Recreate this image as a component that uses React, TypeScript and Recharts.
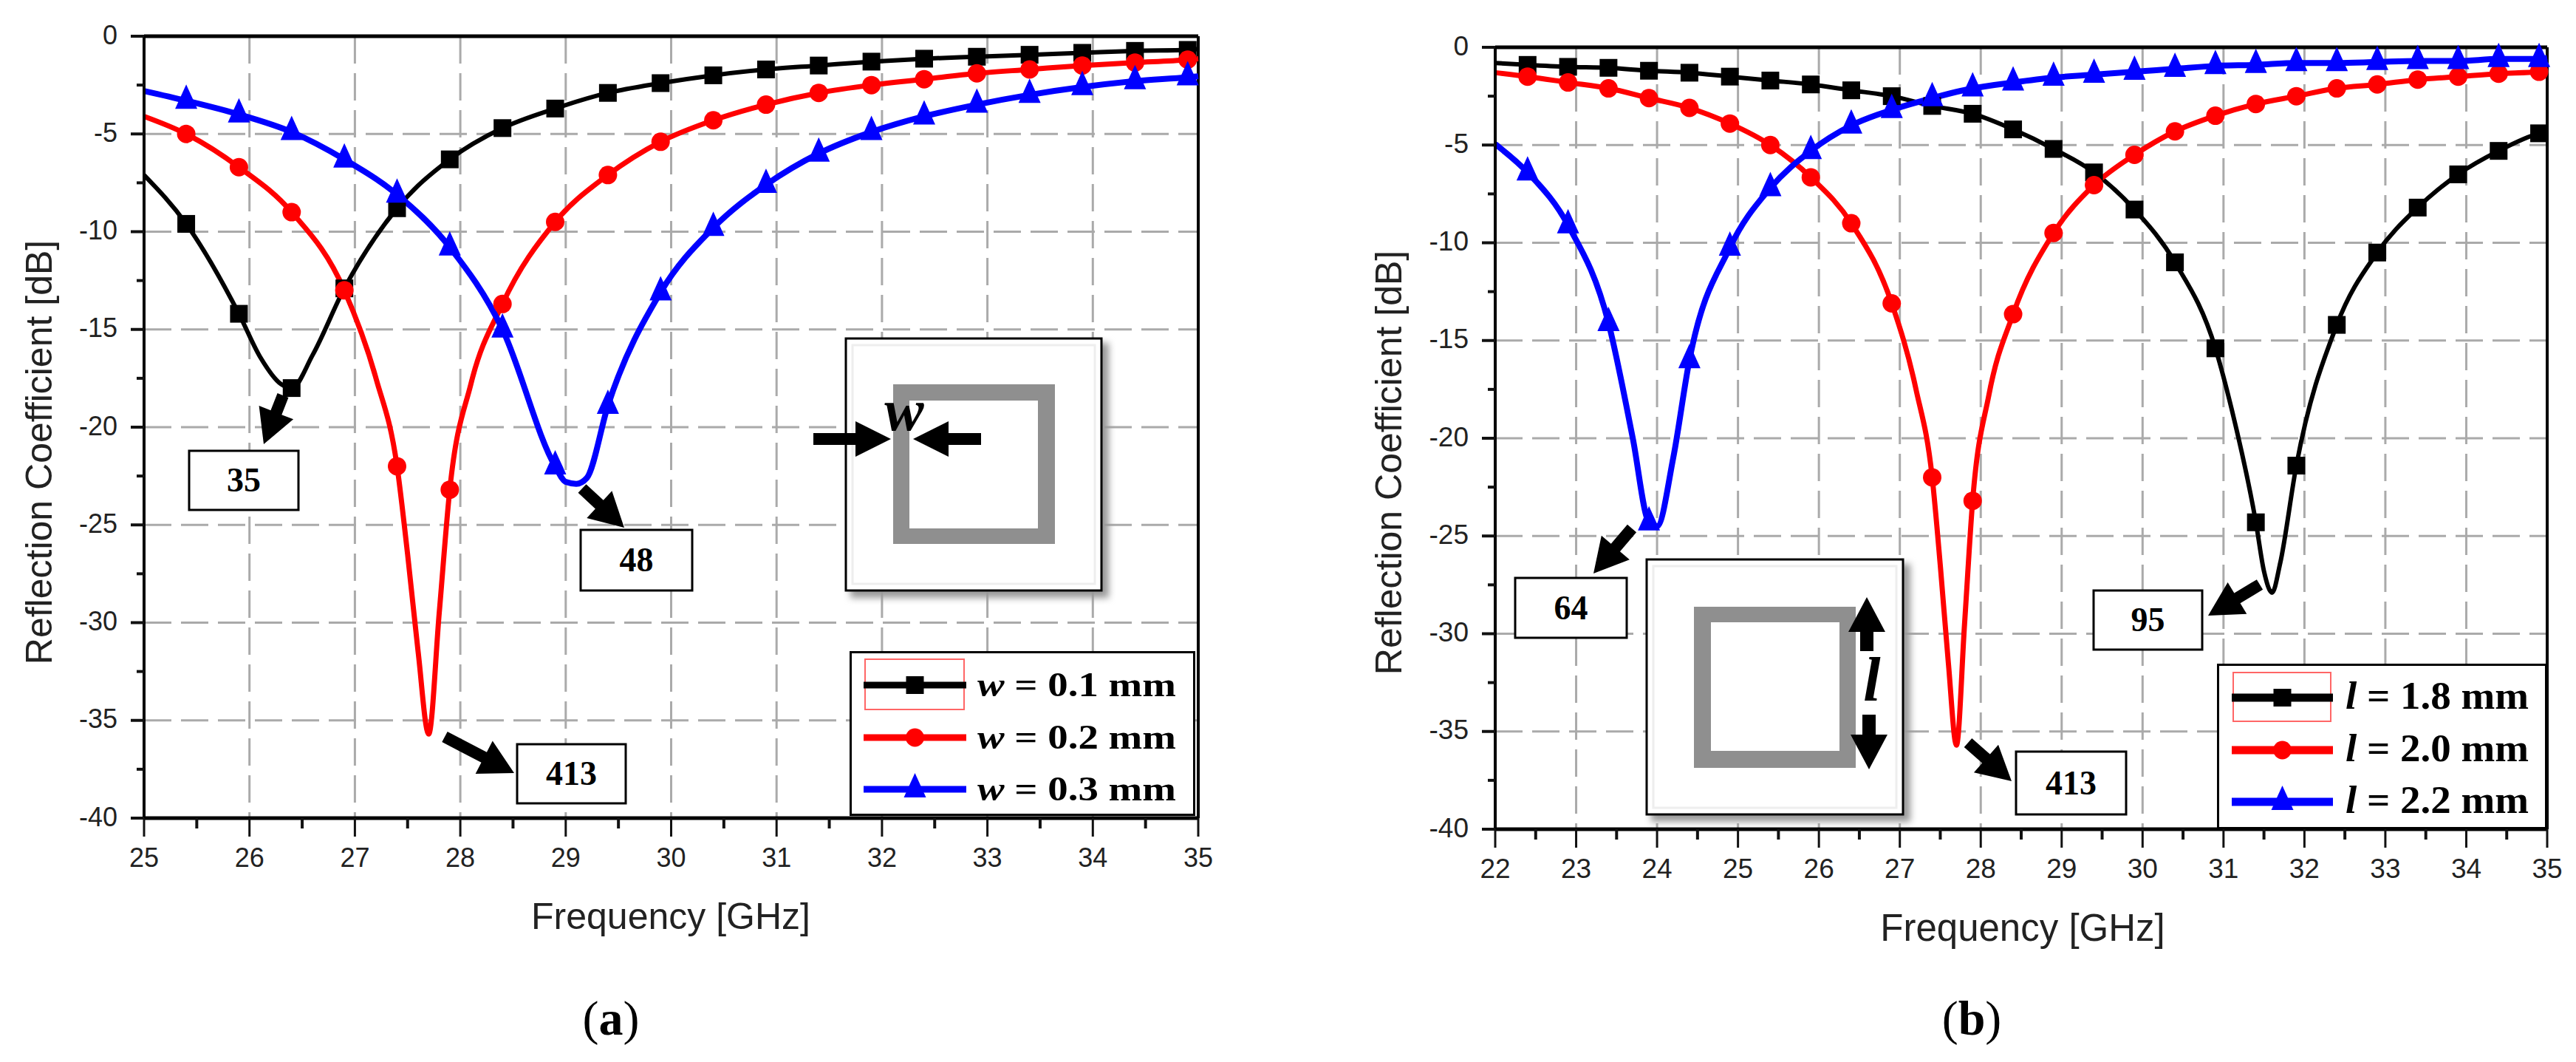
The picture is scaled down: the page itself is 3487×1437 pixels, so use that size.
import { LineChart, Line, XAxis, YAxis, CartesianGrid, Legend, ReferenceLine } from "recharts";

// panel (a): width sweep
const aMarkerX = [25.4, 25.9, 26.4, 26.9, 27.4, 27.9, 28.4, 28.9, 29.4, 29.9, 30.4, 30.9, 31.4, 31.9, 32.4, 32.9, 33.4, 33.9, 34.4, 34.9];
const aBlackX = [25, 25.4, 25.9, 26.1, 26.3, 26.4, 26.6, 26.9, 27.4, 27.9, 28.4, 28.9, 29.4, 29.9, 30.4, 30.9, 31.4, 31.9, 32.4, 32.9, 33.4, 33.9, 34.4, 34.9, 35];
const aBlackY = [-7.1, -9.6, -14.2, -16.4, -17.8, -18, -16.3, -12.9, -8.8, -6.3, -4.7, -3.7, -2.9, -2.4, -2, -1.7, -1.5, -1.3, -1.15, -1.05, -0.95, -0.85, -0.75, -0.7, -0.65];
const aRedX = [25, 25.4, 25.9, 26.4, 26.9, 27.2, 27.4, 27.5, 27.6, 27.7, 27.8, 27.9, 28.1, 28.4, 28.9, 29.4, 29.9, 30.4, 30.9, 31.4, 31.9, 32.4, 32.9, 33.4, 33.9, 34.4, 34.9, 35];
const aRedY = [-4.1, -5, -6.7, -9, -13, -17.5, -22, -26.5, -31.5, -35.7, -29.5, -23.2, -17.8, -13.7, -9.5, -7.1, -5.4, -4.3, -3.5, -2.9, -2.5, -2.2, -1.9, -1.7, -1.5, -1.35, -1.2, -1.15];
const aBlueX = [25, 25.4, 25.9, 26.4, 26.9, 27.4, 27.9, 28.4, 28.9, 29, 29.1, 29.2, 29.4, 29.9, 30.4, 30.9, 31.4, 31.9, 32.4, 32.9, 33.4, 33.9, 34.4, 34.9, 35];
const aBlueY = [-2.8, -3.3, -4, -4.9, -6.3, -8.1, -10.8, -15, -22, -22.8, -22.9, -22.6, -18.9, -13.1, -9.8, -7.6, -6, -4.9, -4.1, -3.5, -3, -2.6, -2.3, -2.1, -2.05];
const aNames = ["w = 0.1 mm", "w = 0.2 mm", "w = 0.3 mm"];

// panel (b): length sweep
const bMarkerX = [22.4, 22.9, 23.4, 23.9, 24.4, 24.9, 25.4, 25.9, 26.4, 26.9, 27.4, 27.9, 28.4, 28.9, 29.4, 29.9, 30.4, 30.9, 31.4, 31.9, 32.4, 32.9, 33.4, 33.9, 34.4, 34.9];
const bBlackX = [22, 22.4, 22.9, 23.4, 23.9, 24.4, 24.9, 25.4, 25.9, 26.4, 26.9, 27.4, 27.9, 28.4, 28.9, 29.4, 29.9, 30.4, 30.9, 31.1, 31.4, 31.5, 31.6, 31.7, 31.9, 32.4, 32.9, 33.4, 33.9, 34.4, 34.9, 35];
const bBlackY = [-0.8, -0.9, -1, -1.05, -1.2, -1.3, -1.5, -1.7, -1.9, -2.2, -2.5, -3, -3.4, -4.2, -5.2, -6.4, -8.3, -11, -15.4, -18.5, -24.3, -26.8, -27.9, -26.4, -21.4, -14.2, -10.5, -8.2, -6.5, -5.3, -4.4, -4.3];
const bRedX = [22, 22.4, 22.9, 23.4, 23.9, 24.4, 24.9, 25.4, 25.9, 26.4, 26.9, 27.2, 27.4, 27.5, 27.6, 27.7, 27.8, 27.9, 28.1, 28.4, 28.9, 29.4, 29.9, 30.4, 30.9, 31.4, 31.9, 32.4, 32.9, 33.4, 33.9, 34.4, 34.9, 35];
const bRedY = [-1.3, -1.5, -1.8, -2.1, -2.6, -3.1, -3.9, -5, -6.65, -9, -13.1, -17.5, -22, -26.5, -31.5, -35.7, -29.5, -23.2, -17.8, -13.65, -9.5, -7.05, -5.5, -4.3, -3.5, -2.9, -2.5, -2.1, -1.9, -1.65, -1.5, -1.35, -1.25, -1.2];
const bBlueX = [22, 22.4, 22.9, 23.4, 23.7, 23.9, 24, 24.2, 24.4, 24.9, 25.4, 25.9, 26.4, 26.9, 27.4, 27.9, 28.4, 28.9, 29.4, 29.9, 30.4, 30.9, 31.4, 31.9, 32.4, 32.9, 33.4, 33.9, 34.4, 34.9, 35];
const bBlueY = [-4.95, -6.4, -9.1, -14.1, -20, -24.3, -24.5, -21, -16, -10.25, -7.2, -5.3, -4, -3.2, -2.6, -2.1, -1.8, -1.55, -1.4, -1.25, -1.1, -0.95, -0.9, -0.8, -0.8, -0.75, -0.7, -0.7, -0.6, -0.6, -0.55];
const bNames = ["l = 1.8 mm", "l = 2.0 mm", "l = 2.2 mm"];

const aXTicks = [25, 25.5, 26, 26.5, 27, 27.5, 28, 28.5, 29, 29.5, 30, 30.5, 31, 31.5, 32, 32.5, 33, 33.5, 34, 34.5, 35];
const bXTicks = [22, 22.5, 23, 23.5, 24, 24.5, 25, 25.5, 26, 26.5, 27, 27.5, 28, 28.5, 29, 29.5, 30, 30.5, 31, 31.5, 32, 32.5, 33, 33.5, 34, 34.5, 35];
const yTicks = [0, -2.5, -5, -7.5, -10, -12.5, -15, -17.5, -20, -22.5, -25, -27.5, -30, -32.5, -35, -37.5, -40];
const yGrid = [-5, -10, -15, -20, -25, -30, -35];

const SERIES_COLORS = ["#000000", "#ff0000", "#0000ff"];
const SANS = "'Liberation Sans', Arial, sans-serif";
const SERIF = "'Liberation Serif', 'Times New Roman', serif";

const toRows = (xs: number[], ys: number[]) => xs.map((x, i) => ({ x, y: ys[i] }));

const Marker = ({ kind, cx, cy }: { kind: number; cx: number; cy: number }) => {
  if (kind === 0) return <rect x={cx - 12} y={cy - 12} width={24} height={24} fill="#000" />;
  if (kind === 1) return <circle cx={cx} cy={cy} r={12.5} fill="#f00" />;
  return <polygon points={`${cx},${cy - 22} ${cx + 15},${cy + 11} ${cx - 15},${cy + 11}`} fill="#00f" />;
};

const markerDot = (kind: number, markerX: number[]) => (props: any) => {
  const key = `${kind}-${props.index}`;
  if (!markerX.includes(props.payload.x)) return <g key={key} />;
  return <Marker key={key} kind={kind} cx={props.cx} cy={props.cy} />;
};

const XTick = ({ x, payload, fontSize, axisY }: any) => {
  const major = Number.isInteger(payload.value);
  return (
    <g>
      <line x1={x} x2={x} y1={axisY} y2={axisY + (major ? 25 : 14)} stroke="#111" strokeWidth={major ? 3 : 4} />
      {major && (
        <text x={x} y={axisY + 53} textAnchor="middle" dominantBaseline="central" fontFamily={SANS} fontSize={fontSize} fill="#222">
          {payload.value}
        </text>
      )}
    </g>
  );
};

const YTick = ({ y, payload, fontSize, axisX }: any) => {
  const major = payload.value % 5 === 0;
  return (
    <g>
      <line x1={axisX} x2={axisX - (major ? 18 : 10)} y1={y} y2={y} stroke="#111" strokeWidth={4} />
      {major && (
        <text x={axisX - 36} y={y - 2} textAnchor="end" dominantBaseline="central" fontFamily={SANS} fontSize={fontSize} fill="#222">
          {payload.value}
        </text>
      )}
    </g>
  );
};

// legend box, drawn in its own svg
const LegendBox = ({ payload, w, h, swatch, rows, red, textX, textLen, fontSize, strokeW }: any) => (
  <svg width={w} height={h} style={{ display: "block" }}>
    <rect x={1.5} y={1.5} width={w - 3} height={h - 3} fill="#fff" stroke="#000" strokeWidth={3} />
    <rect x={red[0]} y={red[1]} width={red[2]} height={red[3]} fill="none" stroke="#f66" strokeWidth={2} />
    {(payload || []).map((p: any, i: number) => (
      <g key={p.value}>
        <line x1={swatch[0]} x2={swatch[1]} y1={rows[i]} y2={rows[i]} stroke={SERIES_COLORS[i]} strokeWidth={strokeW} />
        <Marker kind={i} cx={(swatch[0] + swatch[1]) / 2} cy={rows[i]} />
        <text x={textX} y={rows[i] + 15} fontFamily={SERIF} fontWeight={700} fontSize={fontSize} textLength={textLen} lengthAdjust="spacingAndGlyphs">
          <tspan fontStyle="italic">{String(p.value)[0]}</tspan>
          {String(p.value).slice(1)}
        </text>
      </g>
    ))}
  </svg>
);

const Panel = ({ left, width, margin, xDomain, xTicks, markerX, series, names, tickFont, legend }: any) => (
  <div style={{ position: "absolute", left, top: 0 }}>
    <LineChart width={width} height={1437} margin={margin}>
      <CartesianGrid
        stroke="#aaaaaa"
        strokeWidth={3}
        strokeDasharray="37 13"
        horizontalValues={yGrid}
        verticalValues={xTicks.filter((t: number) => Number.isInteger(t) && t !== xDomain[0] && t !== xDomain[1])}
      />
      <XAxis
        type="number"
        dataKey="x"
        domain={xDomain}
        ticks={xTicks}
        interval={0}
        height={1}
        tickSize={0}
        tickLine={false}
        axisLine={{ stroke: "#000", strokeWidth: 5 }}
        tick={<XTick fontSize={tickFont} axisY={1437 - margin.bottom - 1} />}
        allowDuplicatedCategory={false}
      />
      <YAxis
        type="number"
        domain={[-40, 0]}
        ticks={yTicks}
        interval={0}
        width={1}
        tickSize={0}
        tickLine={false}
        axisLine={{ stroke: "#000", strokeWidth: 4 }}
        tick={<YTick fontSize={tickFont} axisX={margin.left + 1} />}
      />
      <ReferenceLine y={0} stroke="#000" strokeWidth={5} />
      <ReferenceLine x={xDomain[1]} stroke="#000" strokeWidth={4} />
      {series.map((rows: any[], i: number) => (
        <Line
          key={names[i]}
          data={rows}
          dataKey="y"
          name={names[i]}
          type="monotone"
          stroke={SERIES_COLORS[i]}
          strokeWidth={i === 0 ? 6 : i === 1 ? 7 : 8}
          dot={markerDot(i, markerX)}
          activeDot={false}
          isAnimationActive={false}
        />
      ))}
      <Legend
        layout="vertical"
        align="center"
        verticalAlign="middle"
        wrapperStyle={{ left: legend.left, top: legend.top, width: legend.w, height: legend.h, margin: 0, padding: 0 }}
        content={(p: any) => <LegendBox payload={p.payload} {...legend} />}
      />
    </LineChart>
  </div>
);

// block arrow from (x1,y1) to its tip (x2,y2)
const Arrow = ({ x1, y1, x2, y2, shaft = 16, headW = 50, headL = 46 }: any) => {
  const len = Math.hypot(x2 - x1, y2 - y1);
  const ux = (x2 - x1) / len;
  const uy = (y2 - y1) / len;
  const nx = -uy;
  const ny = ux;
  const bx = x2 - ux * headL;
  const by = y2 - uy * headL;
  const pts = [
    [x1 + (nx * shaft) / 2, y1 + (ny * shaft) / 2],
    [bx + (nx * shaft) / 2, by + (ny * shaft) / 2],
    [bx + (nx * headW) / 2, by + (ny * headW) / 2],
    [x2, y2],
    [bx - (nx * headW) / 2, by - (ny * headW) / 2],
    [bx - (nx * shaft) / 2, by - (ny * shaft) / 2],
    [x1 - (nx * shaft) / 2, y1 - (ny * shaft) / 2],
  ];
  return <polygon points={pts.map((p) => p.join(",")).join(" ")} fill="#000" />;
};

const Callout = ({ x, y, w, h, label }: any) => (
  <g>
    <rect x={x} y={y} width={w} height={h} fill="#fff" stroke="#000" strokeWidth={3} />
    <text x={x + w / 2} y={y + h / 2 + 15} textAnchor="middle" fontFamily={SERIF} fontWeight={700} fontSize={46}>
      {label}
    </text>
  </g>
);

const Inset = ({ x, y, w, h, ring, hole }: any) => (
  <g>
    <rect x={x + 6} y={y + 6} width={w + 4} height={h + 4} fill="#999" style={{ filter: "blur(5px)" }} />
    <rect x={x} y={y} width={w} height={h} fill="#fff" stroke="#000" strokeWidth={3} />
    <rect x={x + 9} y={y + 9} width={w - 18} height={h - 18} fill="#fff" stroke="#eeeeee" strokeWidth={3} />
    <rect x={ring[0]} y={ring[1]} width={ring[2]} height={ring[3]} fill="#8f8f8f" />
    <rect x={hole[0]} y={hole[1]} width={hole[2]} height={hole[3]} fill="#fff" />
  </g>
);

const Overlay = () => (
  <svg width={3487} height={1437} style={{ position: "absolute", left: 0, top: 0, pointerEvents: "none" }}>
    {/* axis titles */}
    <text x={908} y={1240} textAnchor="middle" dominantBaseline="central" fontFamily={SANS} fontSize={50} fill="#222">Frequency [GHz]</text>
    <text transform="translate(53 612) rotate(-90)" textAnchor="middle" dominantBaseline="central" fontFamily={SANS} fontSize={50} fill="#222">Reflection Coefficient [dB]</text>
    <text x={2738} y={1255} textAnchor="middle" dominantBaseline="central" fontFamily={SANS} fontSize={51} fill="#222">Frequency [GHz]</text>
    <text transform="translate(1880 626) rotate(-90)" textAnchor="middle" dominantBaseline="central" fontFamily={SANS} fontSize={50} fill="#222">Reflection Coefficient [dB]</text>

    {/* panel letters */}
    <text x={827} y={1400} textAnchor="middle" fontFamily={SERIF} fontSize={66}>(<tspan fontWeight={700}>a</tspan>)</text>
    <text x={2669} y={1400} textAnchor="middle" fontFamily={SERIF} fontSize={66}>(<tspan fontWeight={700}>b</tspan>)</text>

    {/* panel (a) call-outs */}
    <Arrow x1={383} y1={535} x2={357} y2={601} />
    <Callout x={256} y={610} w={148} h={80} label="35" />
    <Arrow x1={788} y1={661} x2={845} y2={714} />
    <Callout x={786} y={717} w={151} h={82} label="48" />
    <Arrow x1={602} y1={997} x2={696} y2={1046} />
    <Callout x={700} y={1007} w={147} h={80} label="413" />

    <Inset x={1145} y={458} w={346} h={341} ring={[1209, 520, 219, 216]} hole={[1231, 542, 174, 173]} />
    <Arrow x1={1101} y1={594} x2={1206} y2={594} headW={48} headL={48} />
    <Arrow x1={1328} y1={594} x2={1236} y2={594} headW={48} headL={48} />
    <text x={1224} y={582} textAnchor="middle" fontFamily={SERIF} fontStyle="italic" fontWeight={700} fontSize={80}>w</text>

    {/* panel (b) call-outs */}
    <Arrow x1={2209} y1={715} x2={2157} y2={776} />
    <Callout x={2051} y={782} w={151} h={81} label="64" />
    <Arrow x1={3059} y1={791} x2={2989} y2={833} />
    <Callout x={2834} y={799} w={147} h={80} label="95" />
    <Arrow x1={2664} y1={1005} x2={2723} y2={1057} />
    <Callout x={2729} y={1017} w={149} h={85} label="413" />

    <Inset x={2229} y={757} w={347} h={345} ring={[2293, 821, 219, 218]} hole={[2316, 842, 174, 174]} />
    <Arrow x1={2527} y1={881} x2={2527} y2={808} shaft={18} headW={50} headL={47} />
    <Arrow x1={2530} y1={967} x2={2530} y2={1041} shaft={18} headW={50} headL={47} />
    <text x={2534} y={948} textAnchor="middle" fontFamily={SERIF} fontStyle="italic" fontWeight={700} fontSize={84}>l</text>
  </svg>
);

export default function App() {
  return (
    <div style={{ position: "absolute", left: 0, top: 0, width: 3487, height: 1437, background: "#fff", overflow: "hidden" }}>
      <Panel
        left={0}
        width={1780}
        margin={{ left: 194, right: 158, top: 49, bottom: 329 }}
        xDomain={[25, 35]}
        xTicks={aXTicks}
        markerX={aMarkerX}
        series={[toRows(aBlackX, aBlackY), toRows(aRedX, aRedY), toRows(aBlueX, aBlueY)]}
        names={aNames}
        tickFont={36}
        legend={{ left: 1150, top: 881, w: 468, h: 223, swatch: [19, 158], rows: [46, 117, 187], red: [21, 11, 134, 68], textX: 173, textLen: 269, fontSize: 46, strokeW: 9 }}
      />
      <Panel
        left={1780}
        width={1707}
        margin={{ left: 243, right: 39, top: 64, bottom: 314 }}
        xDomain={[22, 35]}
        xTicks={bXTicks}
        markerX={bMarkerX}
        series={[toRows(bBlackX, bBlackY), toRows(bRedX, bRedY), toRows(bBlueX, bBlueY)]}
        names={bNames}
        tickFont={37}
        legend={{ left: 1221, top: 898, w: 447, h: 224, swatch: [20, 157], rows: [46, 117, 187], red: [22, 12, 132, 66], textX: 174, textLen: 248, fontSize: 52, strokeW: 11 }}
      />
      <Overlay />
    </div>
  );
}
